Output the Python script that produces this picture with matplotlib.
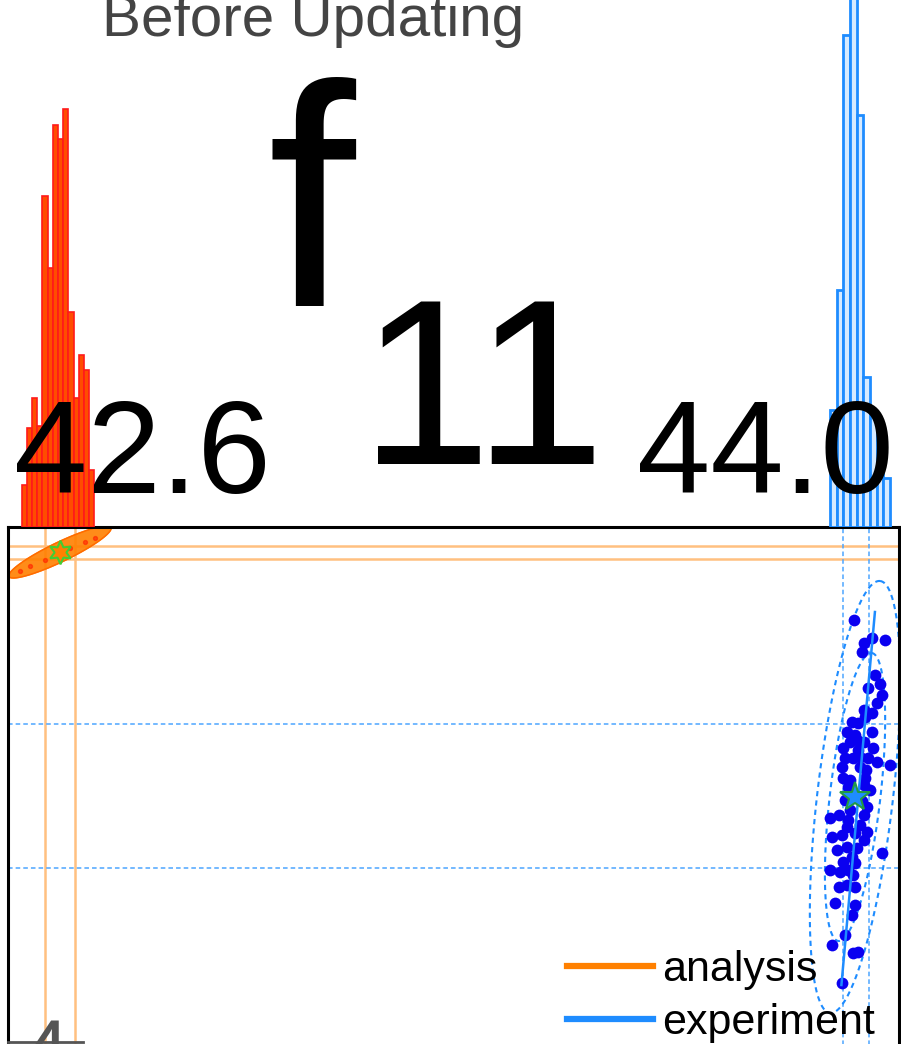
import numpy as np
import matplotlib
matplotlib.use('Agg')
import matplotlib.pyplot as plt
from matplotlib.lines import Line2D

plt.rcParams['font.family'] = ['Liberation Sans', 'DejaVu Sans']

# histogram data (density-like heights) and bin edges
orange_edges = [42.5326, 42.5418, 42.5509, 42.5601, 42.5692, 42.5784, 42.5875, 42.5967,
                42.6058, 42.6150, 42.6241, 42.6333, 42.6424, 42.6516, 42.6607]
orange_counts = [3.2, 7.6, 9.9, 7.8, 25.4, 19.9, 30.9, 29.8, 32.1, 16.5, 9.9, 13.2, 12.1, 4.4]
blue_edges = [43.9560, 43.9677, 43.9795, 43.9912, 44.0029, 44.0147, 44.0264, 44.0381, 44.0499, 44.0616]
blue_counts = [9.0, 18.2, 37.8, 43.0, 31.7, 11.5, 8.6, 7.7, 3.8]

# experiment scatter
exp_x = [43.999, 44.015, 44.029, 44.053, 44.013, 44.036, 44.044, 44.023, 44.048, 44.038,
         44.015, 44.029, 44.018, 43.994, 44.006, 43.985, 44.000, 44.029, 43.991, 44.015,
         43.979, 44.006, 44.032, 43.982, 43.997, 44.023, 44.038, 44.062, 43.977, 44.009,
         43.979, 43.991, 44.018, 43.988, 44.015, 44.026, 43.982, 44.012, 43.956, 43.971,
         43.988, 44.021, 44.015, 43.985, 43.959, 43.977, 44.000, 44.021, 44.015, 43.968,
         43.985, 44.003, 44.047, 43.994, 43.979, 44.000, 43.956, 43.974, 43.988, 43.997,
         43.971, 43.985, 44.000, 43.965, 44.000, 43.994, 43.982, 43.959, 43.997, 44.006,
         43.977, 44.004, 44.009, 44.019, 43.991, 44.009]
exp_y = [44.97, 44.74, 44.79, 44.77, 44.65, 44.42, 44.33, 44.29, 44.22, 44.14,
         44.07, 44.04, 44.00, 43.95, 43.94, 43.85, 43.82, 43.85, 43.75, 43.75,
         43.69, 43.67, 43.69, 43.59, 43.59, 43.59, 43.55, 43.52, 43.50, 43.50,
         43.39, 43.37, 43.39, 43.30, 43.32, 43.27, 43.17, 43.16, 42.99, 43.02,
         42.97, 43.10, 43.02, 42.90, 42.80, 42.82, 42.84, 42.85, 42.77, 42.67,
         42.70, 42.69, 42.64, 42.60, 42.55, 42.54, 42.47, 42.45, 42.47, 42.42,
         42.30, 42.32, 42.30, 42.14, 42.12, 42.02, 41.82, 41.72, 41.64, 41.65,
         41.34, 43.77, 43.60, 43.47, 43.07, 42.92]

# analysis samples (small red points inside the orange ellipse)
ana_x = [42.530, 42.547, 42.574, 42.618, 42.644, 42.662]
ana_y = [45.46, 45.51, 45.57, 45.69, 45.75, 45.79]

exp_mean = (44.0, 43.2)
ana_mean = (42.6, 45.65)
exp_vlines = [43.979, 44.025]
exp_hlines = [43.93, 42.49]
ana_vlines = [42.574, 42.626]
ana_hlines = [45.71, 45.58]
exp_fit_x = [44.035, 43.976]
exp_fit_y = [45.05, 41.32]
# covariance axes (1 sigma) in data units
exp_major, exp_minor = (0.0147, 0.72), (0.0221, -0.0147)
ana_major, ana_minor = (0.0898, 0.245), (0.0075, -0.088)
sigma_levels = [2, 3]

ORANGE = '#ff8000'
BLUE = '#1e8cff'

W, H = 901, 1044
fig = plt.figure(figsize=(9.01, 10.44), dpi=100)


def fx(px):
    return px / W


def fy(py):
    return 1 - py / H


def ellipse_xy(center, major, minor, k=1.0, n=200):
    t = np.linspace(0, 2 * np.pi, n)
    x = center[0] + k * (np.cos(t) * major[0] + np.sin(t) * minor[0])
    y = center[1] + k * (np.cos(t) * major[1] + np.sin(t) * minor[1])
    return x, y


ax = fig.add_axes([fx(8), fy(1317), (899 - 8) / W, (1317 - 527) / H])
hax = fig.add_axes([fx(8), fy(527), (899 - 8) / W, 527 / H])

# marginal histograms
hax.bar(orange_edges[:-1], orange_counts, width=np.diff(orange_edges), align='edge',
        color='#ff4d00', edgecolor='#ff1a1a', linewidth=1.2)
hax.bar(blue_edges[:-1], blue_counts, width=np.diff(blue_edges), align='edge',
        color='#d6eaff', edgecolor=BLUE, linewidth=2)
hax.set_xlim(42.5085, 44.0774)
hax.set_ylim(0, 40.5)
hax.axis('off')

# main scatter panel
for v in ana_vlines:
    ax.axvline(v, color='#ffc080', lw=1.8, zorder=1)
for h in ana_hlines:
    ax.axhline(h, color='#ffc080', lw=1.8, zorder=1)
for v in exp_vlines:
    ax.axvline(v, color='#4da6ff', lw=1.1, ls=(0, (3, 2)), zorder=1)
for h in exp_hlines:
    ax.axhline(h, color='#4da6ff', lw=1.1, ls=(0, (3, 2)), zorder=1)

ex, ey = ellipse_xy(ana_mean, ana_major, ana_minor)
ax.fill(ex, ey, color=ORANGE, alpha=0.9, zorder=2)
ax.plot(ex, ey, color='#ff6a00', lw=1, zorder=2)
ax.scatter(ana_x, ana_y, s=8, color='#ff2200', alpha=0.6, zorder=3)

for k in sigma_levels:
    ex, ey = ellipse_xy(exp_mean, exp_major, exp_minor, k)
    ax.plot(ex, ey, color=BLUE, lw=1.5, ls=(0, (2.5, 2)), zorder=2)
ax.scatter(exp_x, exp_y, s=72, color='#0a00f0', lw=0, zorder=3)
ax.plot(exp_fit_x, exp_fit_y, color=BLUE, lw=1.8, zorder=4)

ax.plot(*ana_mean, marker=(6, 1, 0), ms=17, mfc=ORANGE, mec='#44cc33', mew=1.5, zorder=5)
ax.plot(*exp_mean, marker='*', ms=22, mfc=BLUE, mec='#229944', mew=1.5, zorder=5)

ax.set_xlim(42.5085, 44.0774)
ax.set_ylim(38.0, 45.9)
ax.set_xticks([])
ax.set_yticks([])
for s in ax.spines.values():
    s.set_linewidth(2.2)
    s.set_color('black')

handles = [Line2D([], [], color=ORANGE, lw=4.5), Line2D([], [], color=BLUE, lw=4.5)]
ax.legend(handles, ['analysis', 'experiment'], loc='upper left',
          bbox_to_anchor=(fx(567), fy(950)), bbox_transform=fig.transFigure,
          frameon=False, fontsize=31, handlelength=2.0, handletextpad=0.2,
          borderpad=0, borderaxespad=0, labelspacing=0.3)

# big labels
fig.text(fx(102), fy(36), 'Before Updating', fontsize=42, color='#444444', va='baseline')
fig.text(fx(267), fy(306), 'f', fontsize=227, color='black', va='baseline')
fig.text(fx(360), fy(464), '11', fontsize=170, color='black', va='baseline')
fig.text(fx(14), fy(493), '42.6', fontsize=95, color='black', va='baseline')
fig.text(fx(637), fy(493), '44.0', fontsize=95, color='black', va='baseline')
fig.text(fx(22), fy(1078), '4', fontsize=60, color='#555555', va='baseline')
fig.add_artist(Line2D([fx(8), fx(83)], [fy(1042), fy(1042)], color='#555555', lw=2))

fig.savefig('out.png', dpi=100)
